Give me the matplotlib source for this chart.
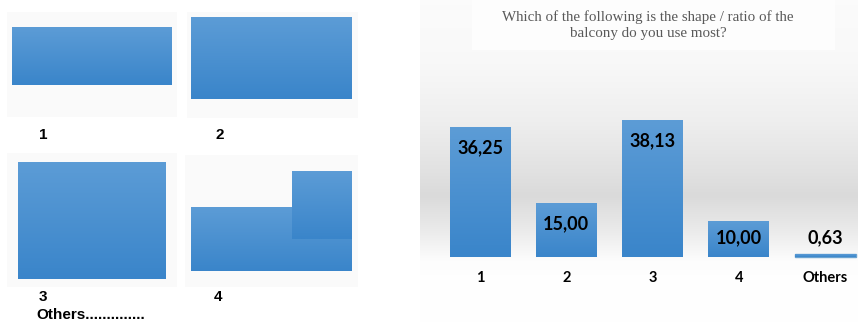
import numpy as np
import matplotlib
matplotlib.use('Agg')
import matplotlib.pyplot as plt
from matplotlib.patches import Rectangle

# data of the bar chart
categories = ['1', '2', '3', '4', 'Others']
values = [36.25, 15.00, 38.13, 10.00, 0.63]
value_labels = ['36,25', '15,00', '38,13', '10,00', '0,63']
title = 'Which of the following is the shape / ratio of the\nbalcony do you use most?'

# sketches of the balcony shapes (pixel boxes: x0, y0, x1, y1)
panel_boxes = [(7, 12, 177, 117), (187, 12, 358, 118), (7, 153, 177, 287), (185, 155, 358, 287)]
shape_boxes = [(12, 27, 172, 85), (191, 17, 352, 99), (18, 162, 166, 279), (191, 207, 352, 271)]
extra_box = (292, 171, 352, 239)
shape_names = ['1', '2', '3', '4']
name_pos = [(43, 135), (220, 135), (43, 297), (218, 297)]

top_col = np.array([92, 156, 214]) / 255
bot_col = np.array([58, 133, 202]) / 255


def gradient(c_top, c_bot, n=64):
    g = np.linspace(0, 1, n)[:, None, None]
    return c_top * (1 - g) + c_bot * g


fig = plt.figure(figsize=(8.58, 3.22), dpi=100)

# left part: sketches
ax0 = fig.add_axes([0, 0, 1, 1])
for (x0, y0, x1, y1) in panel_boxes:
    ax0.add_patch(Rectangle((x0, y0), x1 - x0, y1 - y0, color='#fafafa', lw=0))
for (x0, y0, x1, y1) in shape_boxes + [extra_box]:
    ax0.imshow(gradient(top_col, bot_col), extent=(x0, x1, y1, y0), aspect='auto',
               interpolation='bilinear', zorder=2)
for name, (x, y) in zip(shape_names, name_pos):
    ax0.text(x, y, name, ha='center', va='center', fontsize=11, fontweight='bold',
             family='Liberation Sans')
ax0.text(36, 319, 'Others..............', ha='left', va='baseline', fontsize=11,
         fontweight='bold', family='Liberation Sans')
ax0.set_xlim(0, 858)
ax0.set_ylim(322, 0)
ax0.axis('off')

# right part: bar chart
ax = fig.add_axes([420 / 858, 0, 438 / 858, 1])
prof_y = [0, 60, 120, 170, 195, 230, 262, 322]
prof_v = [0.985, 0.975, 0.935, 0.885, 0.855, 0.92, 0.995, 1.0]
rows = np.interp(np.arange(322), prof_y, prof_v)
bg = np.repeat(rows[:, None, None], 3, axis=2)
ax.imshow(bg, extent=(0, 1, 0, 1), transform=ax.transAxes, aspect='auto',
          interpolation='bilinear', zorder=0)
ax.add_patch(Rectangle((52 / 438, 1 - 50 / 322), 363 / 438, 50 / 322,
                       transform=ax.transAxes, color='#fdfdfd', lw=0, zorder=0.5))

x = np.arange(len(categories))
bars = ax.bar(x, values, width=0.705, color=bot_col, zorder=2)
for b in bars:
    im = ax.imshow(gradient(top_col, bot_col), extent=(b.get_x(), b.get_x() + b.get_width(), 0, b.get_height()),
                   aspect='auto', interpolation='bilinear', zorder=3)
    im.set_clip_path(b)
bars[-1].set_color('#6aa2cf')

for xi, v, lab in zip(x, values, value_labels):
    ax.text(xi, max(v - 5.8, 5.3), lab, ha='center', va='center', fontsize=13,
            fontweight='bold', family='Lato', zorder=4)
for xi, c in zip(x, categories):
    ax.text(xi, -5.8, c, ha='center', va='center', fontsize=10.5, fontweight='bold',
            family='Lato', zorder=4)

ax.text(648 / 858, 1 - 25 / 322, title, transform=fig.transFigure, ha='center', va='center',
        fontsize=10.8, family='Liberation Serif', color='#595959', linespacing=1.25)

ax.set_xlim(-0.695, 4.38)
ax.set_ylim(-18.2, 71.6)
ax.axis('off')

fig.savefig('out.png', dpi=100)
